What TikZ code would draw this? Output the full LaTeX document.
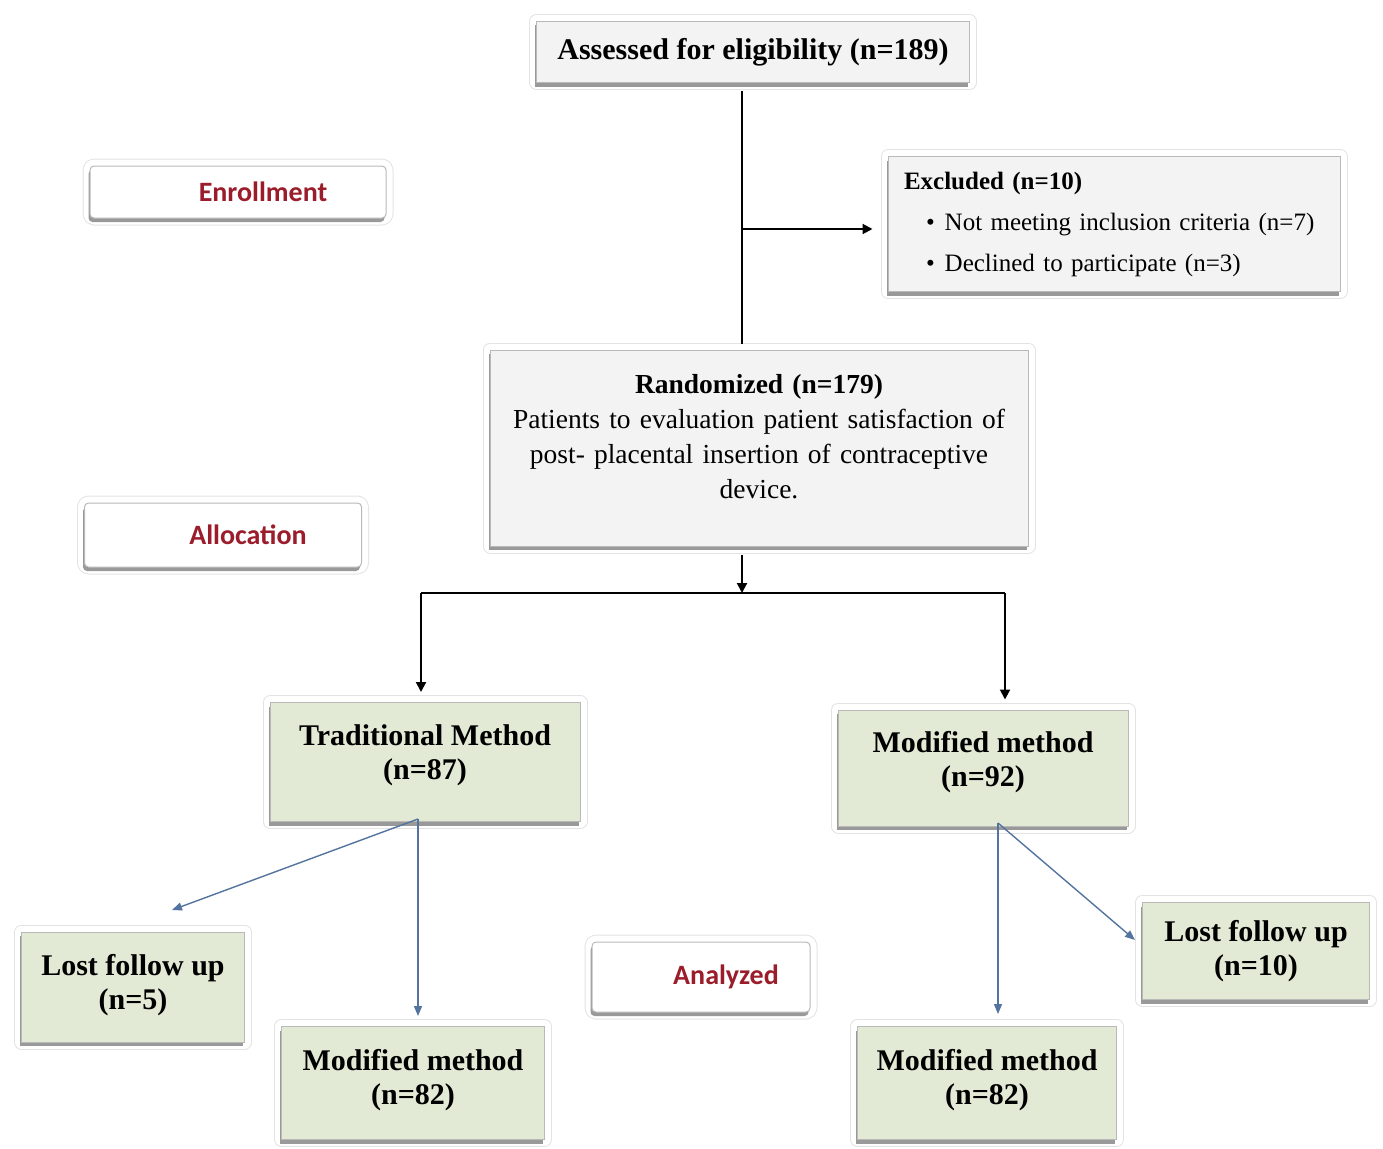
\documentclass[tikz,border=0pt]{standalone}
\usepackage{fontspec}
\setmainfont{Liberation Serif}
\newfontfamily\labelfont{Carlito}
\usetikzlibrary{arrows.meta,shadows}
\definecolor{boxgray}{RGB}{243,243,243}
\definecolor{boxgreen}{RGB}{226,234,214}
\definecolor{labelred}{RGB}{155,28,42}
\definecolor{linkblue}{RGB}{84,116,160}

\begin{document}
\begin{tikzpicture}[x=1pt, y=-1pt,
    panel/.style={draw=gray!55, line width=1pt, inner sep=4pt,
      preaction={draw=gray!22, line width=15pt, line join=round},
      preaction={draw=white, line width=13pt, line join=round},
      drop shadow={shadow xshift=-1.5pt, shadow yshift=-4pt, fill=gray, opacity=.8}},
    graybox/.style={panel, fill=boxgray},
    greenbox/.style={panel, fill=boxgreen, align=center,
      font=\fontsize{30}{34}\selectfont\bfseries},
    stagebox/.style={panel, fill=white, rounded corners=4pt, text=labelred,
      font=\labelfont\fontsize{28}{32}\selectfont\bfseries},
    lift/.style={text depth=#1},
    flow/.style={line width=2pt, -{Triangle[length=10pt, width=10pt]}},
    split/.style={line width=1.4pt, draw=linkblue, -{Triangle[length=10pt, width=8pt]}}]

  \useasboundingbox (0,0) rectangle (1383,1148);

  % stage labels
  \node[stagebox, minimum width=296pt, minimum height=52pt] (enroll) at (238,192) {\hspace*{50pt}Enrollment};
  \node[stagebox, minimum width=277pt, minimum height=64pt] (alloc) at (223,535) {\hspace*{50pt}Allocation};
  \node[stagebox, minimum width=218pt, minimum height=70pt] (analyz) at (701,977) {\hspace*{50pt}Analyzed};

  % enrollment
  \node[graybox, minimum width=433pt, minimum height=61pt,
    font=\fontsize{30}{34}\selectfont\bfseries] (assess) at (753,52) {Assessed for eligibility (n=189)};
  \node[graybox, minimum width=452pt, minimum height=135pt, text width=420pt, align=left,
    font=\fontsize{25}{41}\selectfont] (excl) at (1114,224)
    {\textbf{Excluded (n=10)}\\
     \hspace*{22pt}\textbullet\hspace{10pt}Not meeting inclusion criteria (n=7)\\
     \hspace*{22pt}\textbullet\hspace{10pt}Declined to participate (n=3)};
  \node[graybox, minimum width=538pt, minimum height=196pt, text width=510pt, align=center,
    font=\fontsize{27.5}{35}\selectfont, lift=129pt] (rand) at (759,448)
    {\textbf{Randomized (n=179)}\\
     Patients to evaluation patient satisfaction of\\
     post- placental insertion of contraceptive\\
     device.};

  % allocation
  \node[greenbox, minimum width=310pt, minimum height=119pt, lift=20pt] (trad) at (425,762) {Traditional Method\\(n=87)};
  \node[greenbox, minimum width=290pt, minimum height=116pt, lift=19pt] (modif) at (983,768) {Modified method\\(n=92)};

  % analysis
  \node[greenbox, minimum width=223pt, minimum height=110pt, lift=10pt] (lost5) at (133,987) {Lost follow up\\(n=5)};
  \node[greenbox, minimum width=263pt, minimum height=113pt, lift=13pt] (mod82a) at (413,1083) {Modified method\\(n=82)};
  \node[greenbox, minimum width=259pt, minimum height=113pt, lift=13pt] (mod82b) at (987,1083) {Modified method\\(n=82)};
  \node[greenbox, minimum width=227pt, minimum height=97pt] (lost10) at (1256,951) {Lost follow up\\(n=10)};

  \coordinate (trunk) at (742,229);
  \coordinate (fork) at (742,593);
  \coordinate (forkL) at (421,593);
  \coordinate (forkR) at (1005,593);
  \coordinate (tradfoot) at (418,819);
  \coordinate (modfoot) at (998,823);
  \coordinate (lost5tip) at (172,910);
  \coordinate (lost10tip) at (1135,940);

  % black flow
  \draw[line width=2pt, shorten <=8pt, shorten >=6pt] (trunk |- assess.south) -- (trunk |- rand.north);
  \draw[flow, shorten >=15pt] (trunk) -- (excl.west |- trunk);
  \draw[flow, shorten <=8pt] (fork |- rand.south) -- (fork);
  \draw[line width=2pt] (forkL) -- (forkR);
  \draw[flow, shorten >=10pt] (forkL) -- (forkL |- trad.north);
  \draw[flow, shorten >=10pt] (forkR) -- (forkR |- modif.north);

  % blue follow up
  \draw[split] (tradfoot) -- (lost5tip);
  \draw[split, shorten >=10pt] (tradfoot) -- (tradfoot |- mod82a.north);
  \draw[split, shorten >=12pt] (modfoot) -- (modfoot |- mod82b.north);
  \draw[split] (modfoot) -- (lost10tip);
\end{tikzpicture}
\end{document}
